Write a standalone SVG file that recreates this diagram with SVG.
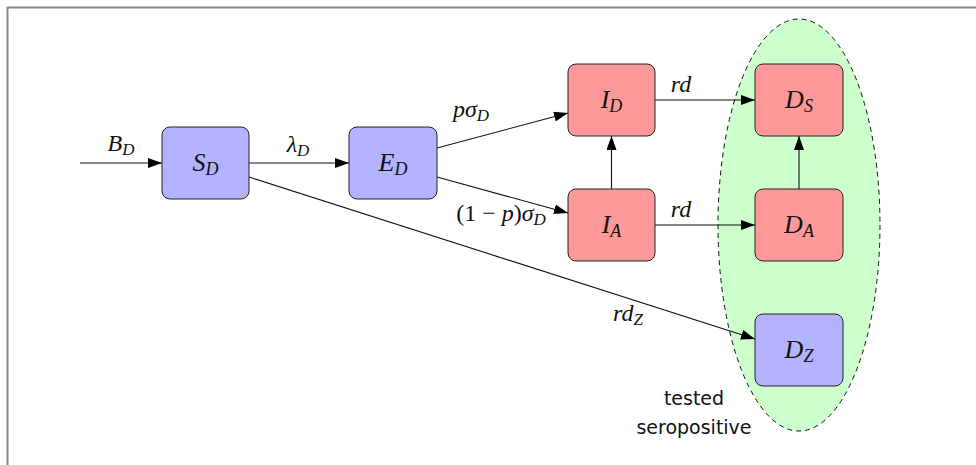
<svg xmlns="http://www.w3.org/2000/svg" width="976" height="465" viewBox="0 0 976 465">
<style>
.frame{fill:none;stroke:#888;stroke-width:2}
.node rect{stroke:#222;stroke-width:1}
.b{fill:#b3b3ff}
.r{fill:#ff9999}
.lbl{font-family:"Liberation Serif",serif;font-style:italic;font-size:26px;fill:#111;text-anchor:middle}
.elbl{font-family:"Liberation Serif",serif;font-style:italic;font-size:24px;fill:#111;text-anchor:middle}
.lbl .sub{font-size:18px}
.elbl .sub{font-size:17px}
.up{font-style:normal}
.conn line{stroke:#111;stroke-width:1.1;marker-end:url(#ah)}
.note{font-family:"DejaVu Sans","Liberation Sans",sans-serif;font-size:19px;fill:#111;text-anchor:middle}
</style>
<defs>
<marker id="ah" viewBox="0 0 14 10" refX="14" refY="5" markerWidth="14" markerHeight="10" markerUnits="userSpaceOnUse" orient="auto">
<path d="M0,0 L14,5 L0,10 Z" fill="#000"/>
</marker>
</defs>
<rect width="976" height="465" fill="#fff"/>
<path class="frame" d="M7.5,465 V7.5 H976"/>
<ellipse id="tested" cx="799" cy="225" rx="81" ry="206" fill="#ccffcc" stroke="#111" stroke-width="1" stroke-dasharray="5,4"/>
<g id="connectors" class="conn">
<line x1="80" y1="163" x2="162" y2="163"/>
<line x1="249" y1="163" x2="349" y2="163"/>
<line x1="437" y1="148" x2="568" y2="113"/>
<line x1="437" y1="177" x2="568" y2="213"/>
<line x1="611.5" y1="189" x2="611.5" y2="136"/>
<line x1="655" y1="100" x2="755" y2="100"/>
<line x1="655" y1="225" x2="755" y2="225"/>
<line x1="799" y1="189" x2="799" y2="136"/>
<line x1="249" y1="177" x2="755" y2="339"/>
</g>
<g id="edge-labels">
<text class="elbl" x="121" y="151">B<tspan class="sub" dy="4">D</tspan></text>
<text class="elbl" x="298" y="152">λ<tspan class="sub" dy="4">D</tspan></text>
<text class="elbl" x="471" y="117">pσ<tspan class="sub" dy="4">D</tspan></text>
<text class="elbl" x="501" y="221"><tspan class="up">(1 − </tspan>p<tspan class="up">)</tspan>σ<tspan class="sub" dy="4">D</tspan></text>
<text class="elbl" x="681" y="92">rd</text>
<text class="elbl" x="681" y="217">rd</text>
<text class="elbl" x="628" y="321">rd<tspan class="sub" dy="4">Z</tspan></text>
</g>
<g id="S_D" class="node"><rect class="b" x="162" y="127" width="87" height="72" rx="8"/><text class="lbl" x="205.5" y="171">S<tspan class="sub" dy="4">D</tspan></text></g>
<g id="E_D" class="node"><rect class="b" x="349" y="127" width="88" height="72" rx="8"/><text class="lbl" x="393" y="171">E<tspan class="sub" dy="4">D</tspan></text></g>
<g id="I_D" class="node"><rect class="r" x="568" y="64" width="87" height="72" rx="8"/><text class="lbl" x="611.5" y="108">I<tspan class="sub" dy="4">D</tspan></text></g>
<g id="I_A" class="node"><rect class="r" x="568" y="189" width="87" height="72" rx="8"/><text class="lbl" x="611.5" y="233">I<tspan class="sub" dy="4">A</tspan></text></g>
<g id="D_S" class="node"><rect class="r" x="755" y="64" width="88" height="72" rx="8"/><text class="lbl" x="799" y="108">D<tspan class="sub" dy="4">S</tspan></text></g>
<g id="D_A" class="node"><rect class="r" x="755" y="189" width="88" height="72" rx="8"/><text class="lbl" x="799" y="233">D<tspan class="sub" dy="4">A</tspan></text></g>
<g id="D_Z" class="node"><rect class="b" x="755" y="314" width="88" height="72" rx="8"/><text class="lbl" x="799" y="358">D<tspan class="sub" dy="4">Z</tspan></text></g>
<g id="note">
<text class="note" x="694" y="405">tested</text>
<text class="note" x="694" y="434">seropositive</text>
</g>
</svg>
